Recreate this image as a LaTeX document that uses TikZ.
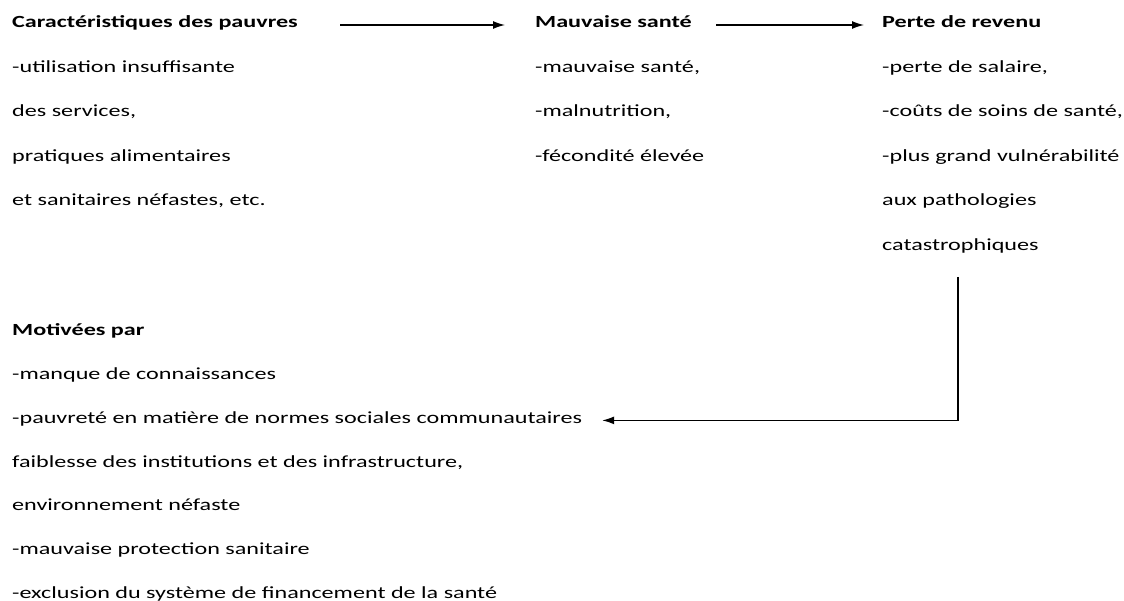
\documentclass[tikz,border=0pt]{standalone}
\usepackage{fontspec}
\setmainfont{Carlito}[FakeStretch=1.42]
\usetikzlibrary{arrows.meta}

\tikzset{
  ligne/.style={anchor=base west, inner sep=0pt, text height=12pt, text depth=4pt,
    font=\fontsize{17}{20}\selectfont},
  titre/.style={ligne, font=\fontsize{17}{20}\selectfont\bfseries},
  fleche/.style={-{Latex[length=12pt,width=8pt]}, line width=1.3pt}
}

\begin{document}
\begin{tikzpicture}[x=1pt,y=-1pt]
  \useasboundingbox (0,0) rectangle (1124,601);

  % Titres
  \node[titre] (carac)  at (12,28)  {Caractéristiques des pauvres};
  \node[titre] (sante)  at (535,28) {Mauvaise santé};
  \node[titre] (revenu) at (882,28) {Perte de revenu};
  \node[titre] (motiv)  at (12,336) {Motivées par};

  % Colonne 1
  \foreach \t [count=\i] in {-utilisation insuffisante, {des services,}, pratiques alimentaires, {et sanitaires néfastes, etc.}} {
    \node[ligne] (carac-\i) at (12,{28+44.5*\i}) {\t};
  }

  % Colonne 2
  \foreach \t [count=\i] in {{-mauvaise santé,}, {-malnutrition,}, -fécondité élevée} {
    \node[ligne] (sante-\i) at (535,{28+44.5*\i}) {\t};
  }

  % Colonne 3
  \foreach \t [count=\i] in {{-perte de salaire,}, {-coûts de soins de santé,}, -plus grand vulnérabilité, aux pathologies, catastrophiques} {
    \node[ligne] (revenu-\i) at (882,{28+44.5*\i}) {\t};
  }

  % Bas
  \foreach \t [count=\i] in {-manque de connaissances, -pauvreté en matière de normes sociales communautaires, {faiblesse des institutions et des infrastructure,}, environnement néfaste, -mauvaise protection sanitaire, -exclusion du système de financement de la santé} {
    \node[ligne] (motiv-\i) at (12,{336+43.7*\i}) {\t};
  }

  % Flèches
  \coordinate (coin) at (958,277);
  \draw[fleche] ([xshift=42pt,yshift=-1pt]carac.east) -- ([xshift=-30pt,yshift=-1pt]sante.west);
  \draw[fleche] ([xshift=24pt,yshift=-1pt]sante.east) -- ([xshift=-18pt,yshift=-1pt]revenu.west);
  \draw[fleche] (coin) |- ([xshift=20pt,yshift=-1pt]motiv-2.east);
\end{tikzpicture}
\end{document}
